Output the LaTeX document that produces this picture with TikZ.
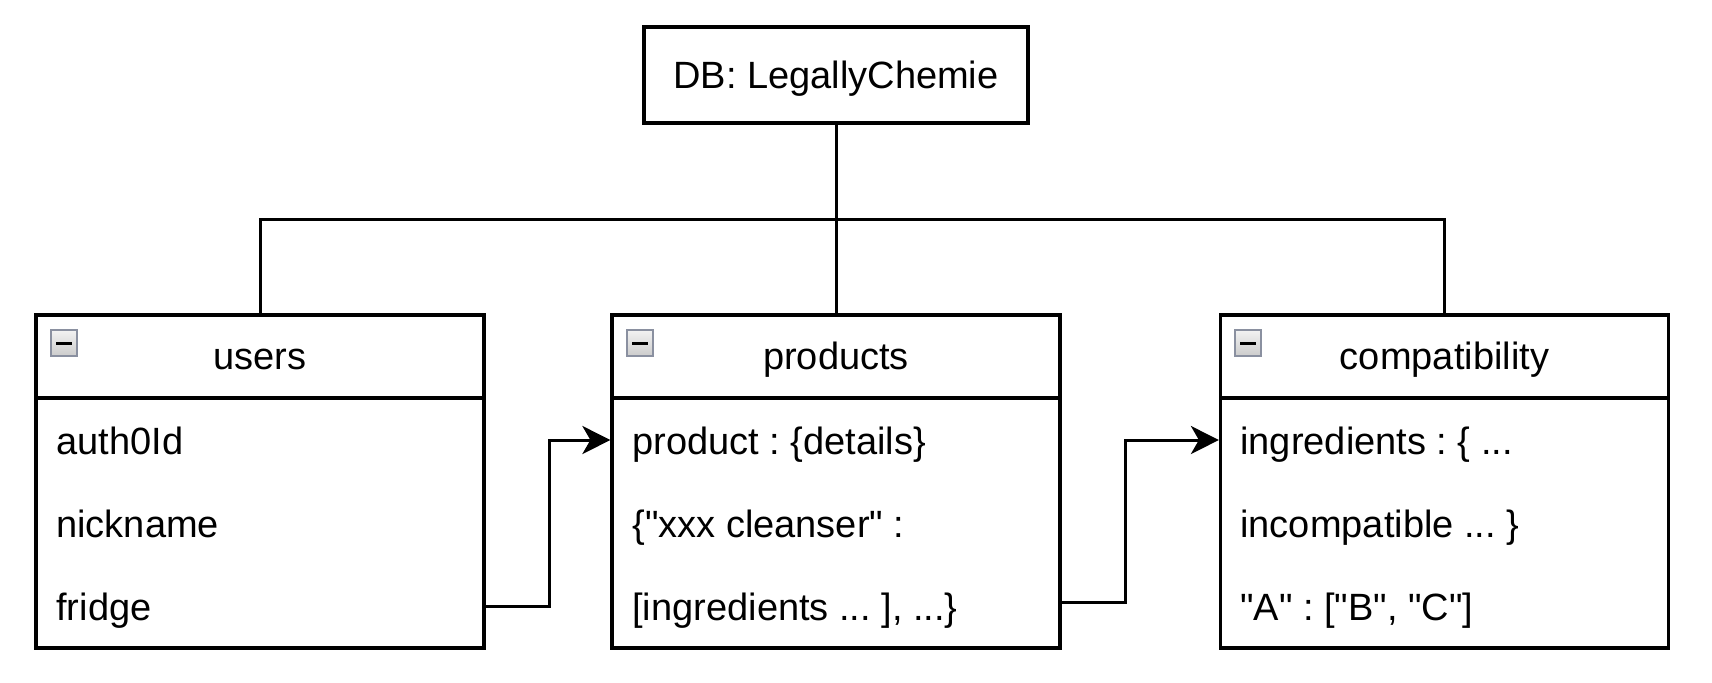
\documentclass[tikz,border=0pt]{standalone}
\usepackage{fontspec}
\setmainfont{Liberation Sans}[Ligatures=TeXOff]
\usetikzlibrary{positioning,arrows.meta}
\definecolor{togglegray}{RGB}{138,144,160}
\frenchspacing

\begin{document}
\begin{tikzpicture}[x=0.5pt, y=-0.5pt, font=\fontsize{19}{23}\selectfont]
    \tikzset{dbbox/.style={draw, line width=1.6pt, minimum width=192pt, minimum height=48pt,
                           text height=13pt, text depth=0pt},
             head/.style={draw, line width=1.6pt, minimum width=224pt, minimum height=41.5pt,
                          text height=12.5pt, text depth=0pt},
             body/.style={draw, line width=1.6pt, minimum width=224pt, minimum height=125pt},
             field/.style={anchor=west, inner sep=0pt, text height=14pt, text depth=0pt},
             toggle/.style={draw=togglegray, line width=1.3pt, minimum size=13pt, inner sep=0pt,
                            top color=white!95!black, bottom color=white!80!black},
             link/.style={line width=1.5pt}}
    \useasboundingbox (0,0) rectangle (1712,682);

    \node[dbbox] (db) at (836,75){DB: LegallyChemie};

    % tables
    \node[head] (users) at (260,356.5){users};
    \node[body] (usersbody) at (260,523){};
    \node[toggle] (usersicon) at (64,343){\rule[-0.75pt]{8pt}{1.5pt}};
    \node[field] (auth) at (56,440){auth0Id};
    \node[field] (nick) at (56,523){nickname};
    \node[field] (fridge) at (56,606){fridge};

    \node[head] (products) at (836,356.5){products};
    \node[body] (prodbody) at (836,523){};
    \node[toggle] (prodicon) at (640,343){\rule[-0.75pt]{8pt}{1.5pt}};
    \node[field] (product) at (632,440){product : \{details\}};
    \node[field] (cleanser) at (632,523){\{"xxx cleanser" :};
    \node[field] (ingrlist) at (632,606){[ingredients ... ], ...\}};

    \node[head] (compat) at (1444.5,356.5){compatibility};
    \node[body] (compatbody) at (1444.5,523){};
    \node[toggle] (compaticon) at (1248,343){\rule[-0.75pt]{8pt}{1.5pt}};
    \node[field] (ingr) at (1240,440){ingredients : \{ ...};
    \node[field] (incomp) at (1240,523){incompatible ... \}};
    \node[field] (pair) at (1240,606){"A" : ["B", "C"]};

    \coordinate (fork) at (836,219);

    \draw[link] (db.south) -- (fork)
        (users.north) |- (fork) -| (compat.north)
        (fork) -- (products.north);

    \draw[link, -{Stealth[length=14pt, width=14pt, inset=4pt]}]
        (usersbody.east |- fridge.west) -- ++(64,0) |- (prodbody.west |- product.west);
    \draw[link, -{Stealth[length=14pt, width=14pt, inset=4pt]}]
        ([yshift=2pt]prodbody.east |- ingrlist.west) -- ++(64,0) |- (compatbody.west |- ingr.west);
\end{tikzpicture}
\end{document}
